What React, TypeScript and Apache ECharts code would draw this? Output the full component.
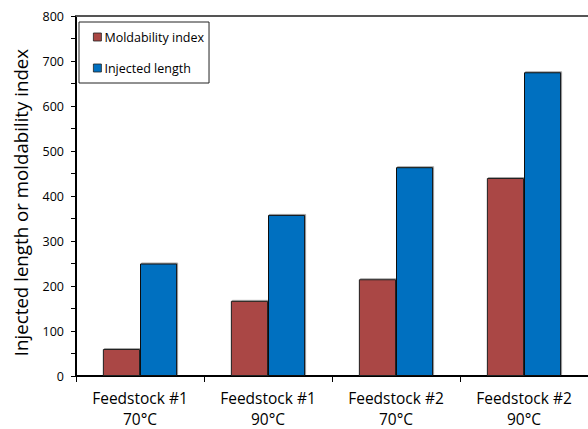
import React, { useEffect, useRef } from "react";
import * as echarts from "echarts";

const categories = ["Feedstock #1\n70°C", "Feedstock #1\n90°C", "Feedstock #2\n70°C", "Feedstock #2\n90°C"];
const moldability = [60, 167, 215, 440];
const injectedLength = [250, 358, 464, 675];
const seriesNames = ["Moldability index", "Injected length"];
const yAxisTitle = "Injected length or moldability index";

export default function App() {
  const ref = useRef<HTMLDivElement>(null);
  useEffect(() => {
    const chart = echarts.init(ref.current!, null, { renderer: "svg" });
    const font = "Open Sans";
    chart.setOption({
      animation: false,
      backgroundColor: "#ffffff",
      grid: { left: 76, top: 16, width: 514, height: 360, containLabel: false },
      legend: {
        orient: "vertical",
        left: 79,
        top: 22,
        padding: [8, 5, 8, 14],
        itemGap: 17,
        itemWidth: 8,
        itemHeight: 8,
        icon: "rect",
        borderColor: "#222",
        borderWidth: 1,
        backgroundColor: "#fff",
        textStyle: { fontFamily: font, fontSize: 12.5, color: "#000", lineHeight: 14, padding: [0, 0, 0, -2] },
        itemStyle: { borderColor: "#222", borderWidth: 0.8 },
        data: seriesNames,
      },
      xAxis: [
        {
          type: "category",
          data: categories,
          axisLine: { lineStyle: { color: "#000", width: 2 } },
          axisTick: { show: true, length: 6, lineStyle: { color: "#000", width: 1 } },
          axisLabel: { fontFamily: font, fontSize: 15.5, color: "#000", lineHeight: 21, margin: 11 },
        },
        {
          type: "category",
          position: "top",
          data: categories,
          axisLine: { lineStyle: { color: "#555", width: 2 } },
          axisTick: { show: false },
          axisLabel: { show: false },
        },
      ],
      yAxis: {
        type: "value",
        min: 0,
        max: 800,
        interval: 50,
        name: yAxisTitle,
        nameLocation: "middle",
        nameGap: 46,
        nameTextStyle: { fontFamily: font, fontSize: 18.7, color: "#000", padding: [0, 13, 0, 0] },
        axisLine: { show: true, lineStyle: { color: "#000", width: 2 } },
        axisTick: { show: true, length: 5, lineStyle: { color: "#000", width: 1 } },
        splitLine: { show: false },
        axisLabel: {
          fontFamily: font,
          fontSize: 12.5,
          color: "#000",
          margin: 12,
          formatter: (v: number) => (v % 100 === 0 ? String(v) : ""),
        },
      },
      series: [
        {
          name: seriesNames[0],
          type: "bar",
          data: moldability,
          barGap: "0%",
          barCategoryGap: "42%",
          itemStyle: {
            color: "#AA4744",
            borderColor: "#222",
            borderWidth: 1,
            shadowColor: "rgba(0,0,0,0.35)",
            shadowOffsetX: 1,
            shadowOffsetY: -1,
            shadowBlur: 1,
          },
        },
        {
          name: seriesNames[1],
          type: "bar",
          data: injectedLength,
          itemStyle: {
            color: "#0070C0",
            borderColor: "#111",
            borderWidth: 1,
            shadowColor: "rgba(0,0,0,0.35)",
            shadowOffsetX: 1,
            shadowOffsetY: -1,
            shadowBlur: 1,
          },
        },
      ],
    });
    return () => chart.dispose();
  }, []);
  return (
    <div
      ref={ref}
      style={{ position: "fixed", left: 0, top: 0, width: 588, height: 429, background: "#fff" }}
    />
  );
}
